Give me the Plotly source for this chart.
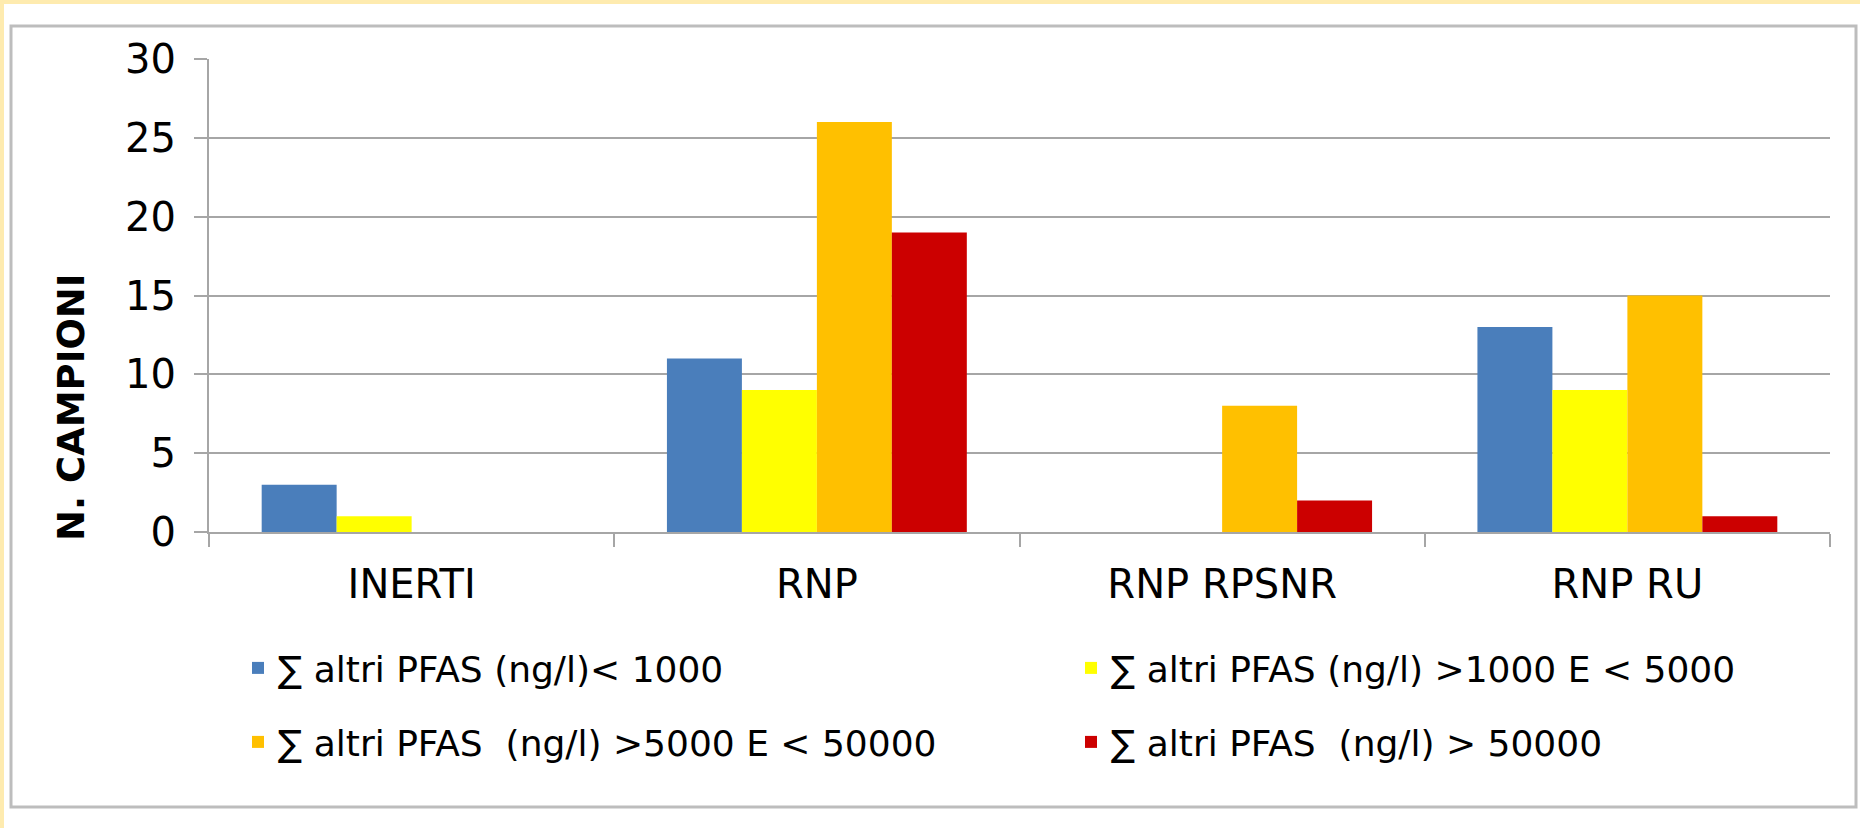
import plotly.graph_objects as go

categories = ["INERTI", "RNP", "RNP RPSNR", "RNP RU"]
series_names = [
    "∑ altri PFAS (ng/l)< 1000",
    "∑ altri PFAS (ng/l) >1000 E < 5000",
    "∑ altri PFAS  (ng/l) >5000 E < 50000",
    "∑ altri PFAS  (ng/l) > 50000",
]
v_lt1000 = [3, 11, 0, 13]
v_1000_5000 = [1, 9, 0, 9]
v_5000_50000 = [0, 26, 8, 15]
v_gt50000 = [0, 19, 2, 1]
series_values = [v_lt1000, v_1000_5000, v_5000_50000, v_gt50000]
colors = ["#4A7EBB", "#FFFF00", "#FFC000", "#CC0000"]
legend_ids = ["legend", "legend2", "legend3", "legend4"]
y_ticks = [0, 5, 10, 15, 20, 25, 30]

W, H = 1860, 828
L, R, T, B = 209, 30, 59, 296
PW, PH = W - L - R, H - T - B

def px(x):
    return (x - L) / PW

def py(y):
    return (H - B - y) / PH

FONT = "DejaVu Sans"

fig = go.Figure()
for name, vals, col, lg in zip(series_names, series_values, colors, legend_ids):
    fig.add_trace(go.Bar(x=categories, y=vals, name=name, marker_color=col,
                         marker_line_width=0, legend=lg))

# legend positions (pixel left of legend box, pixel top of legend box)
legend_pos = [(238, 638), (1071, 638), (238, 712), (1071, 712)]

def legend_cfg(pos):
    return dict(orientation="h", x=px(pos[0]), y=py(pos[1]), xanchor="left", yanchor="top",
                font=dict(size=36, family=FONT, color="black"),
                bgcolor="rgba(0,0,0,0)")

gray = "#A6A6A6"
fig.update_layout(
    width=W, height=H,
    margin=dict(l=L, r=R, t=T, b=B, autoexpand=False),
    paper_bgcolor="white", plot_bgcolor="white",
    barmode="group", bargap=0.26, bargroupgap=0,
    font=dict(family=FONT, color="black", size=34),
    showlegend=True,
    legend=legend_cfg(legend_pos[0]),
    legend2=legend_cfg(legend_pos[1]),
    legend3=legend_cfg(legend_pos[2]),
    legend4=legend_cfg(legend_pos[3]),
    xaxis=dict(showline=True, linecolor=gray, linewidth=2, ticks="outside",
               tickson="boundaries", ticklen=13, tickcolor=gray, tickwidth=2,
               tickfont=dict(size=40, family=FONT), showgrid=False, automargin=False,
               ticklabelstandoff=16),
    yaxis=dict(range=[0, 30], tickvals=y_ticks, showline=True, linecolor=gray, linewidth=2,
               ticks="outside", ticklen=13, tickcolor=gray, tickwidth=2,
               gridcolor=gray, gridwidth=2, tickfont=dict(size=40, family=FONT),
               zeroline=False, automargin=False, ticklabelstandoff=10),
    shapes=[
        dict(type="rect", xref="paper", yref="paper", x0=px(0), x1=px(W), y0=py(0), y1=py(4),
             fillcolor="#FEEBAF", line_width=0, layer="below"),
        dict(type="rect", xref="paper", yref="paper", x0=px(0), x1=px(4), y0=py(0), y1=py(H),
             fillcolor="#FEEBAF", line_width=0, layer="below"),
        dict(type="rect", xref="paper", yref="paper", x0=px(11), x1=px(1856), y0=py(26), y1=py(807),
             line=dict(color="#BDBDBD", width=3), fillcolor="rgba(0,0,0,0)"),
    ],
    annotations=[
        dict(text="<b>N. CAMPIONI</b>", xref="paper", yref="paper", x=px(71), y=py(407),
             textangle=-90, showarrow=False, font=dict(size=37, family=FONT, color="black"),
             xanchor="center", yanchor="middle"),
    ],
)

fig.write_html("out.html", config={"displayModeBar": False},
               post_script="document.body.style.margin='0';document.body.style.padding='0';")
